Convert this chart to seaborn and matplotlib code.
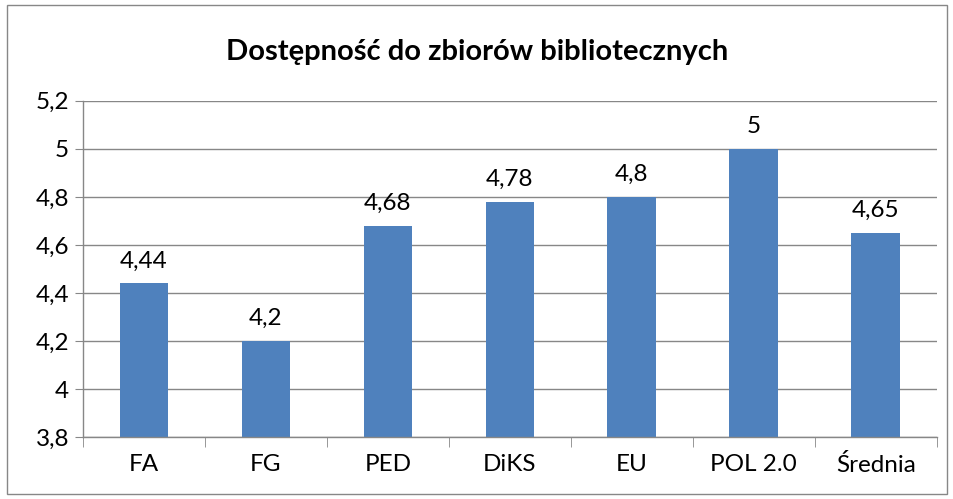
import matplotlib
matplotlib.use("Agg")
import matplotlib.pyplot as plt
import seaborn as sns
import pandas as pd
from matplotlib.patches import Rectangle

categories = ["FA", "FG", "PED", "DiKS", "EU", "POL 2.0", "Średnia"]
values = [4.44, 4.2, 4.68, 4.78, 4.8, 5.0, 4.65]
yticks = [3.8, 4.0, 4.2, 4.4, 4.6, 4.8, 5.0, 5.2]

df = pd.DataFrame({"kat": categories, "ocena": values})

sns.set_style("white")
plt.rcParams["font.family"] = ["Lato", "DejaVu Sans"]
plt.rcParams["text.color"] = "black"

def fmt(v):
    s = f"{v:.2f}".rstrip("0").rstrip(".")
    return s.replace(".", ",")

fig = plt.figure(figsize=(9.54, 4.99), dpi=100)
ax = fig.add_axes([0.087, 0.124, 0.895, 0.674])

sns.barplot(data=df, x="kat", y="ocena", color="#4F81BD", saturation=1,
            width=0.4, linewidth=0, ax=ax)

ax.set_ylim(3.8, 5.2)
ax.set_xlim(-0.5, len(categories) - 0.5)
ax.set_yticks(yticks)
ax.set_yticklabels([fmt(t) for t in yticks], fontsize=17.5)
ax.set_xticks(range(len(categories)))
ax.set_xticklabels(categories, fontsize=17.5)
ax.tick_params(axis="x", length=0, pad=12, labelcolor="black")
ax.tick_params(axis="y", length=6, color="#878787", left=True, pad=4,
               labelcolor="black")
# tick marks between categories
ax.set_xticks([i + 0.5 for i in range(-1, len(categories))], minor=True)
ax.tick_params(axis="x", which="minor", length=7, color="#878787", bottom=True)

ax.grid(axis="y", color="#878787", linewidth=1)
ax.set_axisbelow(True)
for side in ["top", "right"]:
    ax.spines[side].set_visible(False)
for side in ["left", "bottom"]:
    ax.spines[side].set_color("#878787")
    ax.spines[side].set_linewidth(1)
ax.set_xlabel("")
ax.set_ylabel("")

for i, v in enumerate(values):
    ax.text(i, v + 0.05, fmt(v), ha="center", va="bottom", fontsize=17.5,
            color="black")

fig.text(0.5, 0.895, "Dostępność do zbiorów bibliotecznych", ha="center",
         va="center", fontsize=21, fontweight="bold", color="black")

fig.patches.append(Rectangle((0.007, 0.01), 0.986, 0.98, transform=fig.transFigure,
                             fill=False, edgecolor="#878787", linewidth=1))

fig.savefig("out.png", dpi=100)
